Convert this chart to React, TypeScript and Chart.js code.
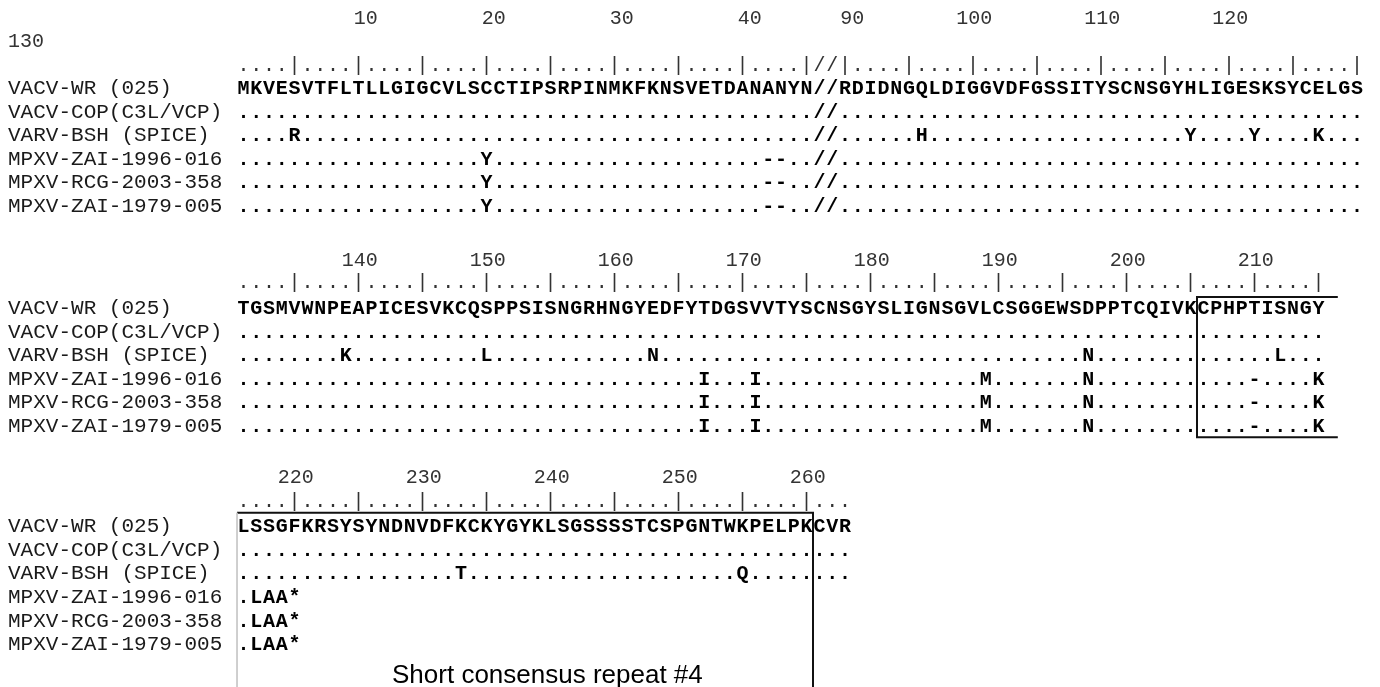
import { useEffect, useRef } from "react";
import { Chart, registerables } from "chart.js";

Chart.register(...registerables);

// ---------- data ----------
const seqNames = [
  "VACV-WR (025)",
  "VACV-COP(C3L/VCP)",
  "VARV-BSH (SPICE)",
  "MPXV-ZAI-1996-016",
  "MPXV-RCG-2003-358",
  "MPXV-ZAI-1979-005",
];

// block 1: positions 1-45, gap "//", positions 90-130
const block1Seqs = [
  "MKVESVTFLT" + "LLGIGCVLSC" + "CTIPSRPINM" + "KFKNSVETDA" + "NANYN//RDI" + "DNGQLDIGGV" + "DFGSSITYSC" + "NSGYHLIGES" + "KSYCELGS",
  ".........." + ".........." + ".........." + ".........." + ".....//..." + ".........." + ".........." + ".........." + "........",
  "....R....." + ".........." + ".........." + ".........." + ".....//..." + "...H......" + ".........." + "....Y....Y" + "....K...",
  ".........." + ".........Y" + ".........." + ".........." + ".--..//..." + ".........." + ".........." + ".........." + "........",
  ".........." + ".........Y" + ".........." + ".........." + ".--..//..." + ".........." + ".........." + ".........." + "........",
  ".........." + ".........Y" + ".........." + ".........." + ".--..//..." + ".........." + ".........." + ".........." + "........",
];
const block1Ruler =
  "....|....|....|....|....|....|....|....|....|" + "//|" + "....|....|....|....|....|....|....|....|";
const block1Segments = [
  { pos: 1, col: 0 },
  { pos: 90, col: 47 },
];
const block1Labels = [10, 20, 30, 40, 90, 100, 110, 120, 130];

// block 2: positions 131-215
const block2Seqs = [
  "TGSMVWNPEA" + "PICESVKCQS" + "PPSISNGRHN" + "GYEDFYTDGS" + "VVTYSCNSGY" + "SLIGNSGVLC" + "SGGEWSDPPT" + "CQIVKCPHPT" + "ISNGY",
  ".........." + ".........." + ".........." + ".........." + ".........." + ".........." + ".........." + ".........." + ".....",
  "........K." + ".........L" + ".........." + "..N......." + ".........." + ".........." + "......N..." + ".........." + ".L...",
  ".........." + ".........." + ".........." + "......I..." + "I........." + "........M." + "......N..." + ".........-" + "....K",
  ".........." + ".........." + ".........." + "......I..." + "I........." + "........M." + "......N..." + ".........-" + "....K",
  ".........." + ".........." + ".........." + "......I..." + "I........." + "........M." + "......N..." + ".........-" + "....K",
];
const block2Ruler = "....|....|....|....|....|....|....|....|....|....|....|....|....|....|....|....|....|";
const block2Segments = [{ pos: 131, col: 0 }];
const block2Labels = [140, 150, 160, 170, 180, 190, 200, 210];

// block 3: positions 216-263
const block3Seqs = [
  "LSSGFKRSYS" + "YNDNVDFKCK" + "YGYKLSGSSS" + "STCSPGNTWK" + "PELPKCVR",
  ".........." + ".........." + ".........." + ".........." + "........",
  ".........." + ".......T.." + ".........." + ".........Q" + "........",
  ".LAA*",
  ".LAA*",
  ".LAA*",
];
const block3Ruler = "....|....|....|....|....|....|....|....|....|...";
const block3Segments = [{ pos: 216, col: 0 }];
const block3Labels = [220, 230, 240, 250, 260];

// boxed region: short consensus repeat #4 (positions 206-260)
const repeatStartPos = 206;
const repeatEndPos = 260;
const repeatCaption = "Short consensus repeat #4";

// ---------- layout (scale units: x = alignment column, y = text line) ----------
const X_MIN = -19.016;
const X_MAX = 88.797;
const Y_MIN = -24 / 23.6;
const Y_MAX = (687 - 24) / 23.6;

const NAME_X = -18.39;
const CAPTION_X = 11.61;
const CAPTION_Y = 27.92;

const blocks = [
  { seqs: block1Seqs, ruler: block1Ruler, segs: block1Segments, labels: block1Labels, label: 0, wrap: 0.975, rulerY: 2.0, row0: 2.97 },
  { seqs: block2Seqs, ruler: block2Ruler, segs: block2Segments, labels: block2Labels, label: 10.25, wrap: 11.2, rulerY: 11.2, row0: 12.29 },
  { seqs: block3Seqs, ruler: block3Ruler, segs: block3Segments, labels: block3Labels, label: 19.45, wrap: 20.4, rulerY: 20.48, row0: 21.53 },
];

function colOf(segs: { pos: number; col: number }[], p: number) {
  let s = segs[0];
  for (const seg of segs) if (seg.pos <= p) s = seg;
  return s.col + (p - s.pos);
}

const MONO = '"Liberation Mono", "DejaVu Sans Mono", monospace';

const textPlugin = {
  id: "alignmentText",
  afterDatasetsDraw(chart: any) {
    const ctx: CanvasRenderingContext2D = chart.ctx;
    const xs = chart.scales.x;
    const ys = chart.scales.y;
    const X = (v: number) => xs.getPixelForValue(v);
    const Y = (v: number) => ys.getPixelForValue(v);
    ctx.save();
    ctx.textBaseline = "alphabetic";

    blocks.forEach((b) => {
      // position numbers (a label that runs off the line wraps to the next line)
      ctx.font = `20px ${MONO}`;
      ctx.fillStyle = "#333";
      b.labels.forEach((n) => {
        const c = colOf(b.segs, n);
        const right = X(c + 1.5);
        if (right > X(X_MAX - 1)) {
          ctx.textAlign = "left";
          ctx.fillText(String(n), X(NAME_X), Y(b.wrap));
        } else {
          ctx.textAlign = "right";
          ctx.fillText(String(n), right, Y(b.label));
        }
      });
      // ruler
      ctx.font = `20px ${MONO}`;
      ctx.fillStyle = "#333";
      ctx.textAlign = "center";
      for (let i = 0; i < b.ruler.length; i++) {
        ctx.fillText(b.ruler[i], X(i), Y(b.rulerY));
      }
      // rows
      b.seqs.forEach((s, r) => {
        const y = Y(b.row0 + r);
        ctx.font = `21px ${MONO}`;
        ctx.fillStyle = "#1a1a1a";
        ctx.textAlign = "left";
        ctx.fillText(seqNames[r], X(NAME_X), y);
        ctx.font = `bold 20px ${MONO}`;
        ctx.fillStyle = "#000";
        ctx.textAlign = "center";
        for (let i = 0; i < s.length; i++) {
          ctx.fillText(s[i], X(i), y);
        }
      });
    });

    ctx.font = '26px "Liberation Sans", Arial, sans-serif';
    ctx.fillStyle = "#000";
    ctx.textAlign = "left";
    ctx.fillText(repeatCaption, X(CAPTION_X), Y(CAPTION_Y));
    ctx.restore();
  },
};

export default function App() {
  const ref = useRef<HTMLCanvasElement>(null);
  useEffect(() => {
    const b2 = blocks[1];
    const b3 = blocks[2];
    const left2 = colOf(b2.segs, repeatStartPos) - 0.5;
    const right2 = b2.ruler.length + 0.5;
    const top2 = 11.57;
    const bottom2 = b2.row0 + b2.seqs.length - 1 + 0.22;
    const left3 = -0.5;
    const right3 = colOf(b3.segs, repeatEndPos) + 0.5;
    const top3 = 20.71;
    const bottom3 = Y_MAX + 1;

    const lineDs = (data: { x: number; y: number }[], color: string, width: number) => ({
      type: "scatter" as const,
      data,
      showLine: true,
      borderColor: color,
      borderWidth: width,
      pointRadius: 0,
      fill: false,
      tension: 0,
    });

    const chart = new Chart(ref.current!, {
      type: "scatter",
      data: {
        datasets: [
          lineDs([{ x: left3, y: top3 }, { x: left3, y: bottom3 }], "#c8c8c8", 1),
          lineDs(
            [
              { x: right2, y: top2 },
              { x: left2, y: top2 },
              { x: left2, y: bottom2 },
              { x: right2, y: bottom2 },
            ],
            "#111",
            2
          ),
          lineDs(
            [
              { x: left3, y: top3 },
              { x: right3, y: top3 },
              { x: right3, y: bottom3 },
            ],
            "#111",
            2
          ),
        ],
      },
      options: {
        animation: false,
        responsive: false,
        events: [],
        layout: { padding: 0 },
        plugins: { legend: { display: false }, tooltip: { enabled: false } },
        scales: {
          x: { type: "linear", display: false, min: X_MIN, max: X_MAX },
          y: { type: "linear", display: false, min: Y_MIN, max: Y_MAX, reverse: true },
        },
      },
      plugins: [textPlugin],
    });
    return () => chart.destroy();
  }, []);

  return (
    <div style={{ position: "fixed", left: 0, top: 0, width: 1380, height: 687, background: "#fff" }}>
      <canvas ref={ref} width={1380} height={687} style={{ display: "block", width: 1380, height: 687 }} />
    </div>
  );
}
